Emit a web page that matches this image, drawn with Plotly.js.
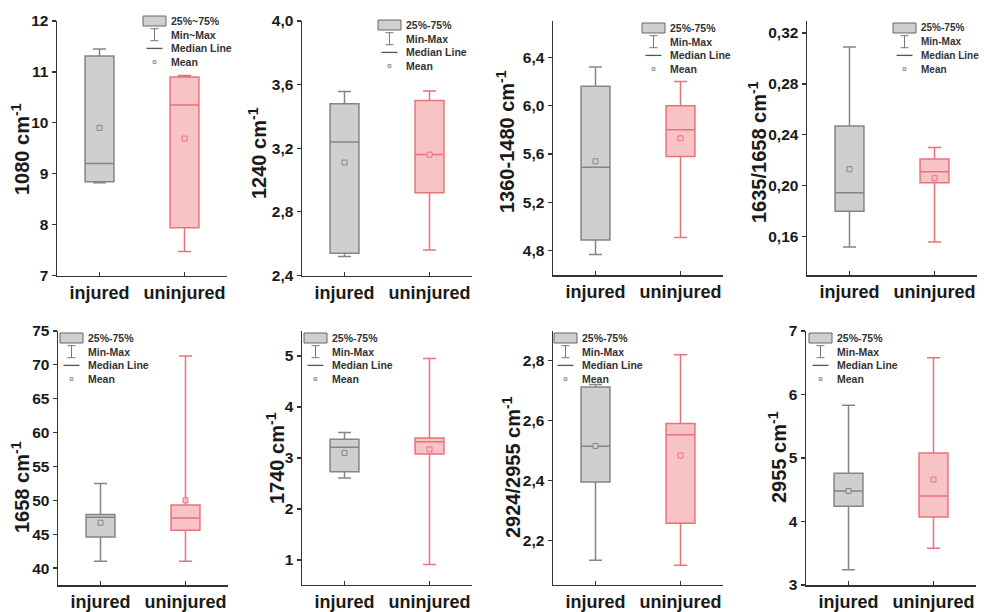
<!DOCTYPE html>
<html><head><meta charset="utf-8">
<script src="https://cdn.plot.ly/plotly-3.0.1.min.js"></script>
<style>html,body{margin:0;padding:0;background:#fff}#chart{width:984px;height:612px}</style>
</head><body><div id="chart"></div>
<script>
// ---- data ----
const groups = ['injured', 'uninjured'];
const yTitles = ['1080 cm<sup>-1</sup>', '1240 cm<sup>-1</sup>', '1360-1480 cm<sup>-1</sup>', '1635/1658 cm<sup>-1</sup>',
                 '1658 cm<sup>-1</sup>', '1740 cm<sup>-1</sup>', '2924/2955 cm<sup>-1</sup>', '2955 cm<sup>-1</sup>'];
// each row: [injured, uninjured]
const mins    = [[8.82, 7.47], [2.52, 2.56], [4.77, 4.91], [0.152, 0.156], [41.0, 41.0], [2.61, 0.91], [2.134, 2.117], [3.24, 3.58]];
const q1s     = [[8.84, 7.94], [2.54, 2.92], [4.89, 5.58], [0.180, 0.2025], [44.6, 45.6], [2.73, 3.08], [2.395, 2.257], [4.24, 4.07]];
const medians = [[9.20, 10.35], [3.24, 3.16], [5.49, 5.80], [0.1945, 0.211], [47.5, 47.4], [3.21, 3.32], [2.514, 2.552], [4.48, 4.40]];
const q3s     = [[11.31, 10.90], [3.48, 3.50], [6.16, 6.00], [0.247, 0.221], [47.9, 49.3], [3.37, 3.39], [2.711, 2.590], [4.76, 5.08]];
const maxs    = [[11.45, 10.93], [3.556, 3.56], [6.32, 6.20], [0.309, 0.230], [52.5, 71.3], [3.50, 4.95], [2.72, 2.819], [5.83, 6.58]];
const means   = [[9.90, 9.69], [3.11, 3.16], [5.54, 5.73], [0.213, 0.206], [46.7, 50.0], [3.10, 3.17], [2.515, 2.483], [4.48, 4.66]];
const legendBox = ['25%~75%', '25%-75%', '25%-75%', '25%-75%', '25%-75%', '25%-75%', '25%-75%', '25%-75%'];
const legendWhisker = ['Min~Max', 'Min-Max', 'Min-Max', 'Min-Max', 'Min-Max', 'Min-Max', 'Min-Max', 'Min-Max'];
const legendMedian = 'Median Line';
const legendMean = 'Mean';

// ---- layout geometry (pixels) ----
const W = 984, H = 612;
const yRanges = [[7, 12], [2.4, 4.0], [4.6, 6.7], [0.13, 0.3294], [37.5, 75], [0.52, 5.49], [2.053, 2.898], [3, 7]];
const yTick0 = [7, 2.4, 4.8, 0.16, 40, 1, 2.2, 3];
const yDtick = [1, 0.4, 0.4, 0.04, 5, 1, 0.2, 1];
const yFmt = ['d', '.1f', '.1f', '.2f', 'd', 'd', '.1f', 'd'];
const plotLeft = [57, 302, 553, 807, 58, 302, 553, 806];
const plotW = 170;
const plotTop = [21, 21, 21, 21, 331, 331, 331, 331];
const plotBot = [275.5, 275.5, 275, 275, 585, 584.5, 584.5, 585];
const titleX = [20, 257, 505, 757, 21, 275, 511, 777];
const titleY = [149, 153, 142, 152, 487, 458, 467, 457];
const legLeft = [143, 378, 642, 893, 60, 304, 554, 809];
const legTop = [21, 25, 28, 28, 338, 338, 338, 338];
const legStep = 13.7;

const fx = px => px / W;
const fy = py => 1 - py / H;

const colFill = ['#cfcfcf', '#f8c3c5'];
const colLine = ['#858585', '#e8727c'];
const FONT = 'Liberation Sans, Arial, sans-serif';
const AXC = '#333333';

const data = [];
const layout = {
  width: W, height: H,
  margin: {l: 0, r: 0, t: 0, b: 0},
  paper_bgcolor: '#ffffff', plot_bgcolor: 'rgba(0,0,0,0)',
  showlegend: false,
  boxmode: 'overlay',
  separators: ',.',
  font: {family: FONT, color: AXC},
  shapes: [], annotations: []
};

for (let p = 0; p < 8; p++) {
  const s = p === 0 ? '' : String(p + 1);
  const xa = 'x' + s, ya = 'y' + s;
  for (let g = 0; g < 2; g++) {
    data.push({
      type: 'box', xaxis: xa, yaxis: ya,
      x: [groups[g]],
      q1: [q1s[p][g]], median: [medians[p][g]], q3: [q3s[p][g]],
      lowerfence: [mins[p][g]], upperfence: [maxs[p][g]],
      boxpoints: false, width: 0.34, whiskerwidth: 0.45,
      fillcolor: colFill[g], line: {color: colLine[g], width: 1.5},
      hoverinfo: 'skip'
    });
    data.push({
      type: 'scatter', mode: 'markers', xaxis: xa, yaxis: ya,
      x: [groups[g]], y: [means[p][g]],
      marker: {symbol: 'square', size: 5, color: colFill[g], line: {color: colLine[g], width: 1}},
      hoverinfo: 'skip'
    });
  }
  layout['xaxis' + s] = {
    domain: [fx(plotLeft[p]), fx(plotLeft[p] + plotW)],
    anchor: ya, type: 'category', categoryorder: 'array', categoryarray: groups,
    range: [-0.5, 1.5], showline: true, linecolor: AXC, linewidth: 1.5,
    ticks: 'inside', ticklen: 4, tickwidth: 1.2, tickcolor: AXC,
    tickfont: {size: 18, family: FONT, weight: 'bold', color: '#1a1a1a'},
    showgrid: false, zeroline: false, fixedrange: true
  };
  layout['yaxis' + s] = {
    domain: [fy(plotBot[p]), fy(plotTop[p])],
    anchor: xa, range: yRanges[p], tick0: yTick0[p], dtick: yDtick[p], tickformat: yFmt[p],
    showline: true, linecolor: AXC, linewidth: 1.5,
    ticks: 'outside', ticklen: 4, tickwidth: 1.2, tickcolor: AXC,
    tickfont: {size: 15.5, family: FONT, weight: 'bold', color: '#1a1a1a'},
    showgrid: false, zeroline: false, fixedrange: true
  };
  // y title
  layout.annotations.push({
    xref: 'paper', yref: 'paper', x: fx(titleX[p]), y: fy(titleY[p]),
    xanchor: 'center', yanchor: 'middle', textangle: -90, showarrow: false,
    text: yTitles[p], font: {size: 20, family: FONT, weight: 'bold', color: '#1a1a1a'}
  });
  // legend
  const L = legLeft[p], cx = L + 11.5;
  const rows = [0, 1, 2, 3].map(i => legTop[p] + i * legStep);
  layout.shapes.push({type: 'rect', xref: 'paper', yref: 'paper',
    x0: fx(L), x1: fx(L + 23), y0: fy(rows[0] + 5), y1: fy(rows[0] - 5),
    fillcolor: '#cfcfcf', line: {color: '#666666', width: 1}});
  layout.shapes.push({type: 'line', xref: 'paper', yref: 'paper',
    x0: fx(cx), x1: fx(cx), y0: fy(rows[1] + 6), y1: fy(rows[1] - 6), line: {color: '#777777', width: 1}});
  layout.shapes.push({type: 'line', xref: 'paper', yref: 'paper',
    x0: fx(cx - 4), x1: fx(cx + 4), y0: fy(rows[1] - 6), y1: fy(rows[1] - 6), line: {color: '#777777', width: 1}});
  layout.shapes.push({type: 'line', xref: 'paper', yref: 'paper',
    x0: fx(cx - 4), x1: fx(cx + 4), y0: fy(rows[1] + 6), y1: fy(rows[1] + 6), line: {color: '#777777', width: 1}});
  layout.shapes.push({type: 'line', xref: 'paper', yref: 'paper',
    x0: fx(cx - 8), x1: fx(cx + 8), y0: fy(rows[2]), y1: fy(rows[2]), line: {color: '#555555', width: 1.3}});
  layout.shapes.push({type: 'rect', xref: 'paper', yref: 'paper',
    x0: fx(cx - 1.5), x1: fx(cx + 1.5), y0: fy(rows[3] + 1.5), y1: fy(rows[3] - 1.5),
    fillcolor: '#dddddd', line: {color: '#888888', width: 0.8}});
  const texts = [legendBox[p], legendWhisker[p], legendMedian, legendMean];
  texts.forEach((t, i) => layout.annotations.push({
    xref: 'paper', yref: 'paper', x: fx(L + 26), y: fy(rows[i]),
    xanchor: 'left', yanchor: 'middle', showarrow: false, text: t,
    font: {size: p === 3 ? 10 : 10.5, family: FONT, weight: 'bold', color: '#333333'}
  }));
}

Plotly.newPlot('chart', data, layout, {displayModeBar: false, staticPlot: true});
</script>
</body></html>
